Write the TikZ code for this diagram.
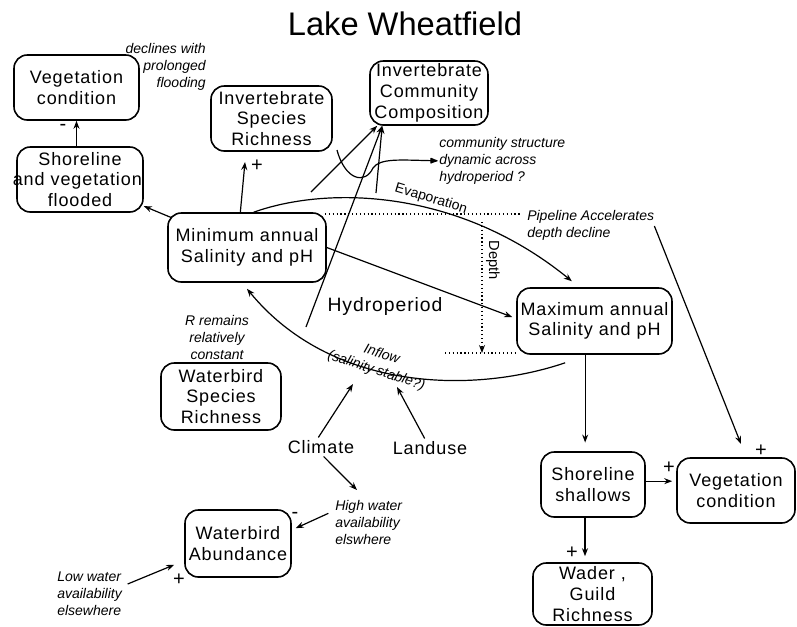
\documentclass[tikz,border=0pt]{standalone}
\usepackage{fontspec}
\setmainfont{Liberation Sans}
\newfontfamily\boxfont{Liberation Sans}[LetterSpace=5.0]
\usetikzlibrary{arrows.meta}

\tikzset{
  box/.style={draw, line width=1.2pt, rounded corners=10pt, align=center, inner sep=0pt,
    font={\boxfont\fontsize{13.5}{15.5}\selectfont\hyphenpenalty=10000\exhyphenpenalty=10000}},
  lbl/.style={inner sep=2pt, font={\boxfont\fontsize{13.5}{15.5}\selectfont}},
  note/.style={inner sep=0pt, font={\itshape\fontsize{10.5}{12.75}\selectfont}},
  sgn/.style={inner sep=0pt, font={\fontsize{15}{15}\selectfont}},
  arr/.style={-{Stealth[length=6pt,width=4.5pt]}, line width=0.9pt},
  dots/.style={dotted, line width=0.9pt}
}

\begin{document}
\begin{tikzpicture}[x=0.75pt,y=-0.75pt]
\useasboundingbox (0,0) rectangle (797,626);

\node[inner sep=0pt, font={\fontsize{24.5}{24.5}\selectfont}] (title) at (405,24) {Lake Wheatfield};

% boxes
\node[box, text width=93.75pt, minimum height=48.75pt] (vegA) at (76.5,87.5) {Vegetation\\condition};
\node[box, text width=94.5pt, minimum height=48.75pt] (shoreF) at (80,179.5) {Shoreline\\\hspace*{-4pt}and vegetation\hspace*{-4pt}\\flooded};
\node[box, text width=90.75pt, minimum height=48.75pt] (invS) at (271.5,118.5) {Invertebrate\\Species\\Richness};
\node[box, text width=88.5pt, minimum height=48pt] (invC) at (429,93) {Invertebrate\\Community\\Composition};
\node[box, text width=118.5pt, minimum height=51.75pt] (minS) at (247,247.5) {Minimum annual\\Salinity and pH};
\node[box, text width=116.25pt, minimum height=49.5pt] (maxS) at (594.5,321) {Maximum annual\\Salinity and pH};
\node[box, text width=90pt, minimum height=50.25pt] (wbS) at (221,396.5) {Waterbird\\Species\\Richness};
\node[box, text width=79.5pt, minimum height=50.25pt] (wbA) at (238,543.5) {Waterbird\\Abundance};
\node[box, text width=78pt, minimum height=48.75pt] (shoreS) at (593,484.5) {Shoreline\\shallows};
\node[box, text width=88.5pt, minimum height=48.75pt] (vegB) at (736,490.5) {Vegetation\\condition};
\node[box, text width=89.25pt, minimum height=46.5pt] (wader) at (592.5,594) {Wader ,\\Guild\\Richness};

% plain labels
\node[lbl] (climate) at (321,447) {Climate};
\node[lbl] (landuse) at (430,448) {Landuse};
\node[lbl, font={\boxfont\fontsize{14.5}{15.5}\selectfont}] (hydro) at (385,306) {Hydroperiod};
\node[inner sep=0pt, font={\fontsize{11}{11}\selectfont}, rotate=-90] (depth) at (493,260) {Depth};
\node[inner sep=0pt, font={\fontsize{10.5}{10.5}\selectfont}, rotate=-17] (evap) at (431,199) {Evaporation};
\node[note, align=center, rotate=-18] (inflow) at (379,363) {Inflow\\(salinity stable?)};

% notes
\node[note, anchor=north east, align=right] (noteD) at (206,43) {declines with\\prolonged\\flooding};
\node[note, anchor=north west, align=left] (noteC) at (439,137) {community structure\\dynamic across\\hydroperiod ?};
\node[note, anchor=north west, align=left] (noteP) at (527,210) {Pipeline Accelerates\\depth decline};
\node[note, anchor=north, align=center] (noteR) at (217,315) {R remains\\relatively\\constant};
\node[note, anchor=north west, align=left] (noteH) at (335,500) {High water\\availability\\elswhere};
\node[note, anchor=north west, align=left] (noteL) at (57,572) {Low water\\availability\\elsewhere};

% signs
\node[sgn] (s1) at (63,127) {-};
\node[sgn] (s2) at (257,166) {+};
\node[sgn] (s3) at (761,451) {+};
\node[sgn] (s4) at (669,468) {+};
\node[sgn] (s5) at (572,553) {+};
\node[sgn] (s6) at (295,515) {-};
\node[sgn] (s7) at (179,580) {+};

% free ends
\coordinate (invSin) at (245,162);
\coordinate (cA) at (311,192);
\coordinate (cB) at (306,327);
\coordinate (cC) at (376,193);
\coordinate (wig) at (337,150);
\coordinate (inA) at (353,384);
\coordinate (inB) at (397,387);
\coordinate (hwIn) at (357,490);
\coordinate (vegBin) at (741,444);

% connectors
\draw[arr] (shoreF.north -| vegA.south) -- (vegA.south);
\draw[arr] ([shift={(3pt,-4pt)}]minS.north west) -- ([yshift=5pt]shoreF.south east);
\draw[arr] ([xshift=-5pt]minS.north) -- (invSin);
\draw[arr] (cA) -- ([xshift=6pt]invC.south west);
\draw[arr] (cB) -- ([xshift=9.75pt]invC.south west);
\draw[arr] (cC) -- ([xshift=9.75pt]invC.south west);
\draw[-{Latex[length=7pt,width=5pt,round]}, line width=0.9pt] (wig) .. controls (345,180) and (365,185) .. (373,168)
  .. controls (380,158) and (400,160) .. ([xshift=-1pt]noteC.west);
\draw[arr] ([xshift=5pt]minS.north) .. controls (330,185) and (460,190) .. ([shift={(-17pt,4.5pt)}]maxS.north);
\draw[arr] (minS.east) -- ([shift={(-3pt,3pt)}]maxS.west);
\draw[arr] ([shift={(-22pt,-6pt)}]maxS.south) .. controls (470,395) and (330,390) .. ([yshift=-4.5pt]minS.south);
\draw[dots] (325,214) -- (520,214);
\draw[dots] (445,353) -- (515,353);
\draw[dots, arr] (482,222) -- (482,353);
\draw[arr] ([yshift=-12pt]noteP.north east) -- (vegBin);
\draw[arr, shorten >=6.5pt] ([xshift=-7pt]maxS.south) -- ([xshift=-7pt]maxS.south |- shoreS.north);
\draw[arr, shorten >=3pt] ([yshift=2.5pt]shoreS.east) -- ([yshift=2.5pt]shoreS.east -| vegB.west);
\draw[arr, shorten >=4.5pt] ([xshift=-6pt]shoreS.south) -- ([xshift=-6pt]shoreS.south |- wader.north);
\draw[arr] ([xshift=-2pt]climate.north) -- (inA);
\draw[arr] ([xshift=-4pt]landuse.north) -- (inB);
\draw[arr] ([xshift=2pt]climate.south) -- (hwIn);
\draw[arr] ([shift={(-5pt,-10pt)}]noteH.north west) -- ([shift={(3pt,11.5pt)}]wbA.east);
\draw[arr] ([shift={(53pt,-9pt)}]noteL.north west) -- ([shift={(-7.5pt,9.75pt)}]wbA.south west);
\end{tikzpicture}
\end{document}
